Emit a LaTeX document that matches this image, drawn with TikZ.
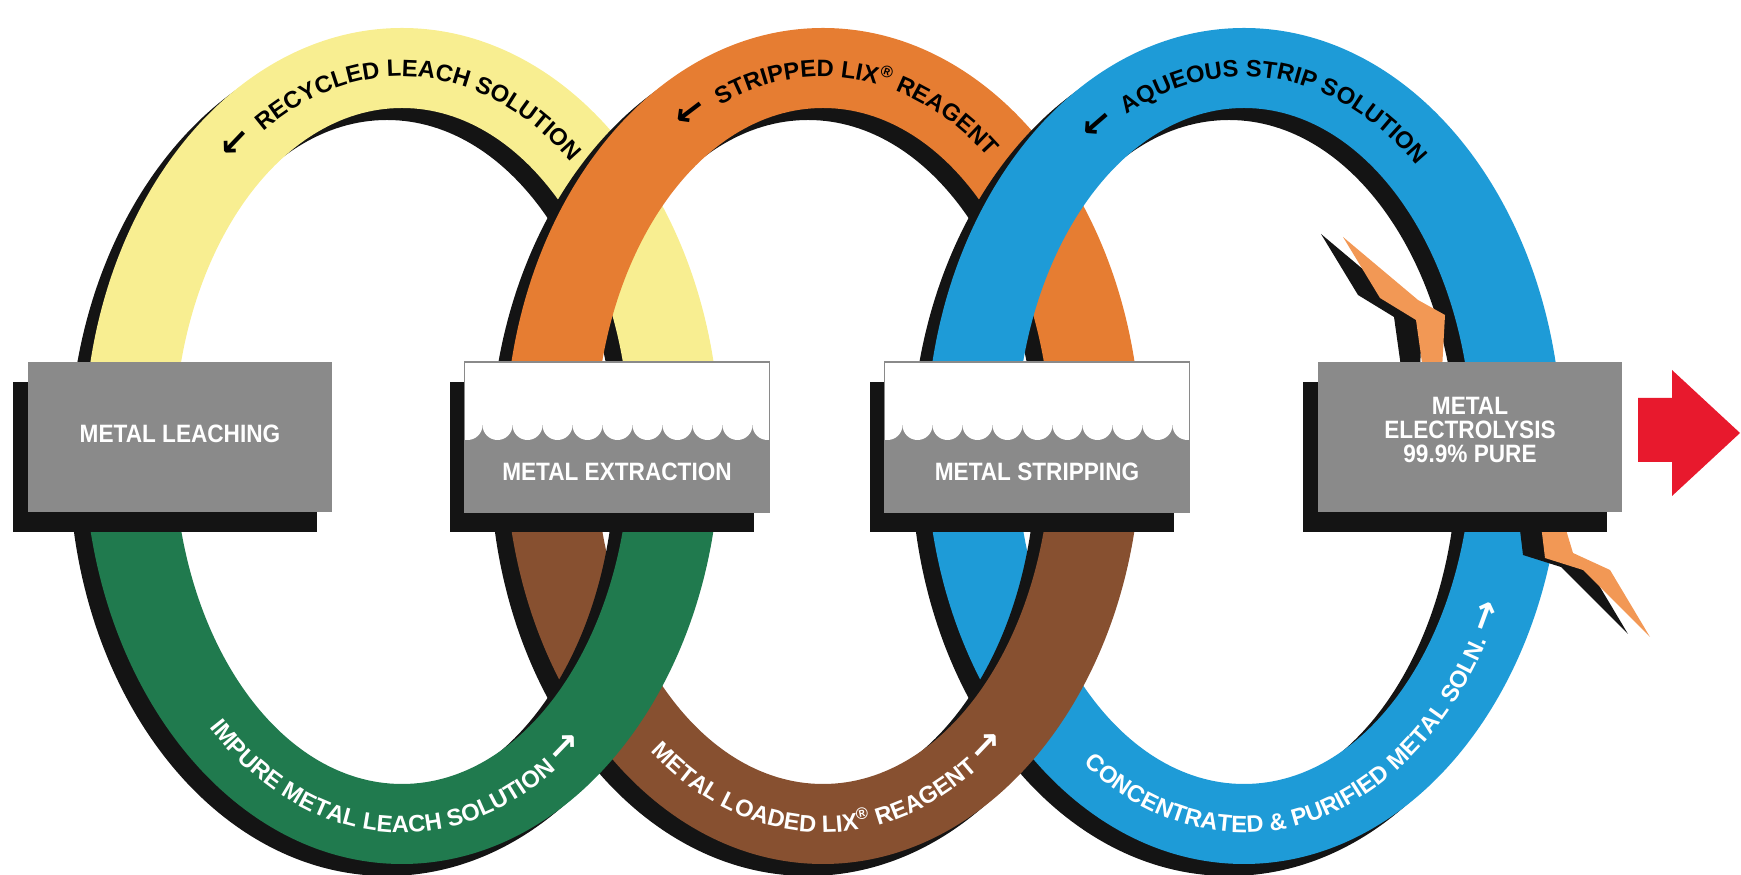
\documentclass[tikz,border=0pt]{standalone}
\usepackage{fontspec}
\setmainfont{Liberation Sans}
\newfontfamily\boxfont[FakeStretch=0.9]{Liberation Sans}
\newfontfamily\arrfont{DejaVu Sans}
\usetikzlibrary{decorations.text,shadows}
\definecolor{ryellow}{RGB}{248,238,145}
\definecolor{rorange}{RGB}{230,125,50}
\definecolor{rblue}{RGB}{30,155,215}
\definecolor{rgreen}{RGB}{32,122,78}
\definecolor{rbrown}{RGB}{135,80,48}
\definecolor{boxgray}{RGB}{138,138,138}
\definecolor{shadowblack}{RGB}{20,20,20}
\definecolor{boltorange}{RGB}{242,152,85}
\definecolor{outred}{RGB}{232,25,45}
\newcommand{\ringtxt}{\fontsize{13.5pt}{15pt}\selectfont\bfseries}
\newcommand{\ringtxtw}{\ringtxt\color{white}}
\newcommand{\ringarr}{\arrfont\fontsize{21pt}{22pt}\selectfont\bfseries}
\newcommand{\ringarrw}{\ringarr\color{white}}
\begin{document}
\begin{tikzpicture}[x=0.02cm,y=0.02cm,
    procbox/.style={fill=boxgray,minimum width=6.1cm,minimum height=3cm,inner sep=0pt,
      general shadow={fill=shadowblack,shadow xshift=-0.3cm,shadow yshift=-0.4cm}},
    wavebox/.style={procbox,draw=boxgray,line width=0.8pt,path picture={
      \fill[white] (path picture bounding box.north west) rectangle ([yshift=-1.26cm]path picture bounding box.north east);
      \foreach \k in {0,...,10}
        \fill[white] ([xshift=0.06cm+\k*0.6cm,yshift=-1.26cm]path picture bounding box.north west) circle[radius=0.3cm];}},
    boxlabel/.style={text=white,align=center,font=\boxfont\bfseries\fontsize{14.3pt}{13.6pt}\selectfont},
    ringtext/.style={decorate,decoration={text along path,text align=center,text={#1}}}]
  \useasboundingbox (0,0) rectangle (1741,875);
  \foreach \cx/\col in {1244/rblue,823/rbrown,402/rgreen}{
    \fill[shadowblack,shift={(-15,-12)}] ({\cx-318},429) arc[start angle=180,end angle=360,x radius=318,y radius=418]
      -- ({\cx+228},429) arc[start angle=360,end angle=180,x radius=228,y radius=338] -- cycle;
    \fill[\col] ({\cx-318},429) arc[start angle=180,end angle=360,x radius=318,y radius=418]
      -- ({\cx+228},429) arc[start angle=360,end angle=180,x radius=228,y radius=338] -- cycle;
  }
  \foreach \cx/\col in {402/ryellow,823/rorange,1244/rblue}{
    \fill[shadowblack,shift={(-15,-12)}] ({\cx+318},429) arc[start angle=0,end angle=180,x radius=318,y radius=418]
      -- ({\cx-228},429) arc[start angle=180,end angle=0,x radius=228,y radius=338] -- cycle;
    \fill[\col] ({\cx+318},429) arc[start angle=0,end angle=180,x radius=318,y radius=418]
      -- ({\cx-228},429) arc[start angle=180,end angle=0,x radius=228,y radius=338] -- cycle;
  }
  \path[ringtext={|\ringarr|← |\ringtxt|RECYCLED LEACH SOLUTION}]
    ([shift={(402,429)}]165:264.5 and 369.5) arc[start angle=165,end angle=15,x radius=264.5,y radius=369.5];
  \path[ringtext={|\ringarr|← |\ringtxt|STRIPPED LIX{\textsuperscript{®}} REAGENT}]
    ([shift={(823,429)}]162:264.5 and 369.5) arc[start angle=162,end angle=12,x radius=264.5,y radius=369.5];
  \path[ringtext={|\ringarr|← |\ringtxt|AQUEOUS STRIP SOLUTION}]
    ([shift={(1244,429)}]162.5:264.5 and 369.5) arc[start angle=162.5,end angle=12.5,x radius=264.5,y radius=369.5];
  \path[ringtext={|\ringtxtw|IMPURE METAL LEACH SOLUTION |\ringarrw|→}]
    ([shift={(402,429)}]193.5:281.5 and 386.5) arc[start angle=193.5,end angle=343.5,x radius=281.5,y radius=386.5];
  \path[ringtext={|\ringtxtw|METAL LOADED LIX{\textsuperscript{®}} REAGENT |\ringarrw|→}]
    ([shift={(823,429)}]196:281.5 and 386.5) arc[start angle=196,end angle=346,x radius=281.5,y radius=386.5];
  \path[ringtext={|\ringtxtw|CONCENTRATED {\&} PURIFIED METAL SOLN. |\ringarrw|→}]
    ([shift={(1244,429)}]204:281.5 and 386.5) arc[start angle=204,end angle=364,x radius=281.5,y radius=386.5];
  \fill[shadowblack,shift={(-22,3)}] (1343,638) -- (1418,575) -- (1445,560) -- (1442,505) -- (1423,505) -- (1416,555) -- (1380,577) -- cycle;
  \fill[boltorange] (1343,638) -- (1418,575) -- (1445,560) -- (1442,505) -- (1423,505) -- (1416,555) -- (1380,577) -- cycle;
  \fill[shadowblack,shift={(-22,3)}] (1538,375) -- (1557,375) -- (1573,322) -- (1610,305) -- (1650,238) -- (1583,305) -- (1545,317) -- cycle;
  \fill[boltorange] (1538,375) -- (1557,375) -- (1573,322) -- (1610,305) -- (1650,238) -- (1583,305) -- (1545,317) -- cycle;
  \node[procbox] (leach) at (180,438) {};
  \node[wavebox] (extr) at (617,438) {};
  \node[wavebox] (strip) at (1037,438) {};
  \node[procbox] (elec) at (1470,438) {};
  \node[boxlabel] (leachlab) at ([yshift=0.06cm]leach.center) {METAL LEACHING};
  \node[boxlabel] (extrlab) at ([yshift=-0.7cm]extr.center) {METAL EXTRACTION};
  \node[boxlabel] (striplab) at ([yshift=-0.7cm]strip.center) {METAL STRIPPING};
  \node[boxlabel] (eleclab) at ([yshift=0.14cm]elec.center) {METAL\\ELECTROLYSIS\\99.9\% PURE};
  \fill[outred] (1638,413) -- (1638,477) -- (1672,477) -- (1672,505) -- (1740,442) -- (1672,379) -- (1672,413) -- cycle;
\end{tikzpicture}
\end{document}
